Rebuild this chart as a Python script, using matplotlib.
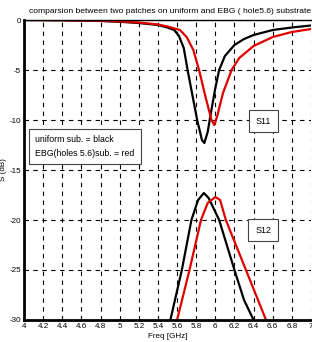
import numpy as np
import matplotlib.pyplot as plt

plt.rcParams['font.family'] = ['Liberation Sans', 'DejaVu Sans']
plt.rcParams['axes.unicode_minus'] = False

# S11 curves (dB)
f_s11_uni = [4.0, 4.4, 4.8, 5.0, 5.2, 5.4, 5.5, 5.57, 5.62, 5.67, 5.71, 5.76, 5.81,
             5.86, 5.885, 5.92, 5.95, 6.0, 6.04, 6.1, 6.2, 6.3, 6.4, 6.6, 6.8, 7.0]
s11_uni = [0.0, -0.03, -0.1, -0.18, -0.3, -0.5, -0.75, -1.0, -1.6, -2.8, -5.0, -7.5, -10.0,
           -12.0, -12.3, -11.2, -9.5, -6.8, -5.0, -3.6, -2.5, -1.9, -1.5, -1.0, -0.75, -0.55]

f_s11_ebg = [4.0, 4.4, 4.8, 5.0, 5.2, 5.4, 5.5, 5.63, 5.7, 5.77, 5.83, 5.9, 5.96,
             5.99, 6.02, 6.08, 6.17, 6.25, 6.4, 6.6, 6.8, 7.0]
s11_ebg = [0.0, -0.02, -0.08, -0.15, -0.25, -0.45, -0.65, -1.0, -1.7, -3.0, -5.0, -7.8, -10.0,
           -10.5, -9.6, -7.3, -5.0, -3.8, -2.6, -1.7, -1.2, -0.9]

# S12 curves (dB)
f_s12_uni = [5.53, 5.65, 5.75, 5.82, 5.88, 5.93, 6.04, 6.2, 6.3, 6.4]
s12_uni = [-30.0, -25.0, -20.0, -18.0, -17.3, -17.8, -20.0, -25.0, -28.0, -30.0]

f_s12_ebg = [5.60, 5.73, 5.85, 5.92, 6.0, 6.05, 6.11, 6.32, 6.53]
s12_ebg = [-30.0, -25.0, -20.0, -18.3, -17.7, -18.0, -20.0, -25.0, -30.0]

xticks = [4, 4.2, 4.4, 4.6, 4.8, 5, 5.2, 5.4, 5.6, 5.8, 6, 6.2, 6.4, 6.6, 6.8, 7]
xtick_labels = ['4', '4.2', '4.4', '4.6', '4.8', '5', '5.2', '5.4', '5.6', '5.8',
                '6', '6.2', '6.4', '6.6', '6.8', '7']
yticks = [0, -5, -10, -15, -20, -25, -30]

fig = plt.figure(figsize=(3.12, 3.42), dpi=100)
ax = fig.add_axes([24 / 312, 22 / 342, 287 / 312, 300 / 342])

ax.plot(f_s11_uni, s11_uni, color='black', lw=1.6)
ax.plot(f_s11_ebg, s11_ebg, color='#e00000', lw=1.6)
ax.plot(f_s12_uni, s12_uni, color='black', lw=1.6)
ax.plot(f_s12_ebg, s12_ebg, color='#e00000', lw=1.6)

ax.set_xlim(4, 7)
ax.set_ylim(-30, 0)
ax.set_xticks(xticks)
ax.set_xticklabels(xtick_labels)
ax.set_yticks(yticks)
ax.tick_params(direction='in', length=0, labelsize=5.8, pad=2)
ax.grid(True, color='black', linestyle=(0, (4, 4)), lw=0.8)

ax.spines['left'].set_linewidth(2)
ax.spines['bottom'].set_linewidth(2)
ax.spines['top'].set_linewidth(1)
ax.spines['right'].set_visible(False)

ax.set_title('comparsion between two patches on uniform and EBG ( hole5.6) substrate',
             fontsize=6.1, pad=5, x=0.51)
ax.set_xlabel('Freq [GHz]', fontsize=5.8, labelpad=2)
ax.set_ylabel('S (dB)', fontsize=5.8, labelpad=2)

box = dict(boxstyle='square,pad=0.7', facecolor='white', edgecolor='#444444', lw=0.8)
ax.text(4.12, -12.65, 'uniform sub. = black\nEBG(holes 5.6)sub. = red', fontsize=6.3,
        va='center', ha='left', bbox=box, linespacing=1.6)
ax.text(6.5, -10.1, 'S11', fontsize=6.5, va='center', ha='center',
        bbox=dict(boxstyle='square,pad=0.75', facecolor='white', edgecolor='#444444', lw=0.8))
ax.text(6.5, -21.0, 'S12', fontsize=6.5, va='center', ha='center',
        bbox=dict(boxstyle='square,pad=0.75', facecolor='white', edgecolor='#444444', lw=0.8))

fig.savefig('out.png', dpi=100)
